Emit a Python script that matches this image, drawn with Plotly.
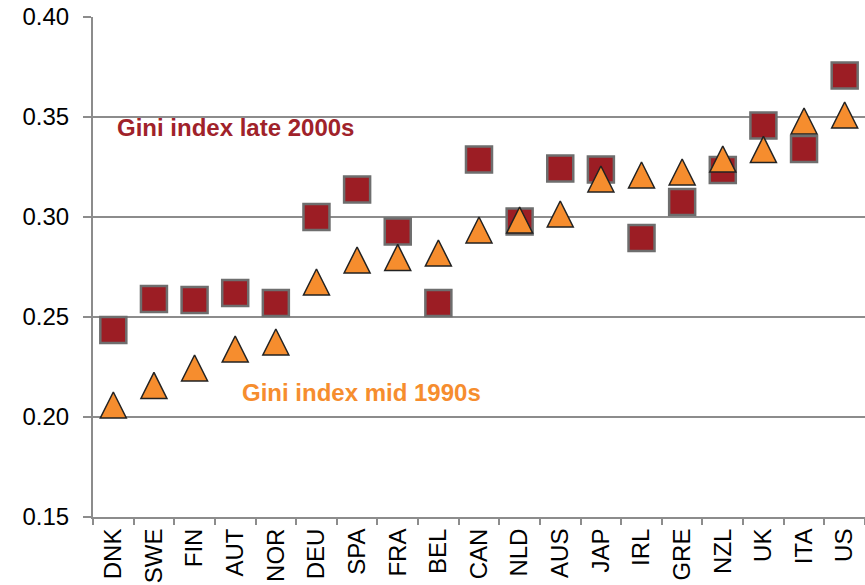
import plotly.graph_objects as go

countries = ["DNK", "SWE", "FIN", "AUT", "NOR", "DEU", "SPA", "FRA", "BEL", "CAN",
             "NLD", "AUS", "JAP", "IRL", "GRE", "NZL", "UK", "ITA", "US"]
gini_late_2000s = [0.2435, 0.259, 0.2585, 0.262, 0.257, 0.300, 0.3138, 0.2928, 0.257, 0.3288,
                   0.2978, 0.3243, 0.3238, 0.2895, 0.3075, 0.3235, 0.3457, 0.334, 0.3707]
gini_mid_1990s = [0.206, 0.2158, 0.2245, 0.234, 0.2375, 0.2675, 0.2785, 0.2798, 0.282, 0.2935,
                  0.2985, 0.3015, 0.319, 0.321, 0.3225, 0.329, 0.3338, 0.348, 0.351]
y_ticks = [0.15, 0.20, 0.25, 0.30, 0.35, 0.40]

FONT = "Liberation Sans, Arial, sans-serif"
GRID = "#8c8c8c"

fig = go.Figure()
fig.add_trace(go.Scatter(
    x=countries, y=gini_late_2000s, mode="markers", name="Gini index late 2000s",
    marker=dict(symbol="square", size=26, color="#9c1d24",
                line=dict(color="#6e6e6e", width=2.5)),
))
fig.add_trace(go.Scatter(
    x=countries, y=gini_mid_1990s, mode="markers", name="Gini index mid 1990s",
    marker=dict(symbol="arrow-down", size=26, color="#f68d2e", angle=180, standoff=13,
                line=dict(color="#222222", width=1.5)),
))

fig.add_annotation(x=0.029, y=0.778, xref="paper", yref="paper", xanchor="left", yanchor="middle",
                   text="<b>Gini index late 2000s</b>", showarrow=False,
                   font=dict(family=FONT, size=24, color="#a0222a"))
fig.add_annotation(x=0.191, y=0.25, xref="paper", yref="paper", xanchor="left", yanchor="middle",
                   text="<b>Gini index mid 1990s</b>", showarrow=False,
                   font=dict(family=FONT, size=24, color="#f68d2e"))

fig.update_layout(
    width=865, height=585,
    margin=dict(l=93, r=0, t=17, b=68),
    paper_bgcolor="white", plot_bgcolor="white",
    showlegend=False,
    font=dict(family=FONT, size=24, color="black"),
    xaxis=dict(type="category", categoryorder="array", categoryarray=countries,
               showgrid=False, showline=True, linecolor=GRID, linewidth=2,
               ticks="outside", tickson="boundaries", ticklen=6, tickwidth=2, tickcolor=GRID,
               tickangle=-90, tickfont=dict(size=24), range=[-0.5, 18.5]),
    yaxis=dict(range=[0.15, 0.40], tickvals=y_ticks, ticktext=[f"{v:.2f}" for v in y_ticks],
               showgrid=True, gridcolor=GRID, gridwidth=2,
               showline=True, linecolor=GRID, linewidth=2, zeroline=False,
               ticks="outside", ticklen=8, tickwidth=2, tickcolor=GRID,
               ticklabelstandoff=9, tickfont=dict(size=24)),
)

fig.write_html("out.html", config={"displayModeBar": False},
               post_script="document.body.style.margin='0px';document.body.style.overflow='hidden';")
